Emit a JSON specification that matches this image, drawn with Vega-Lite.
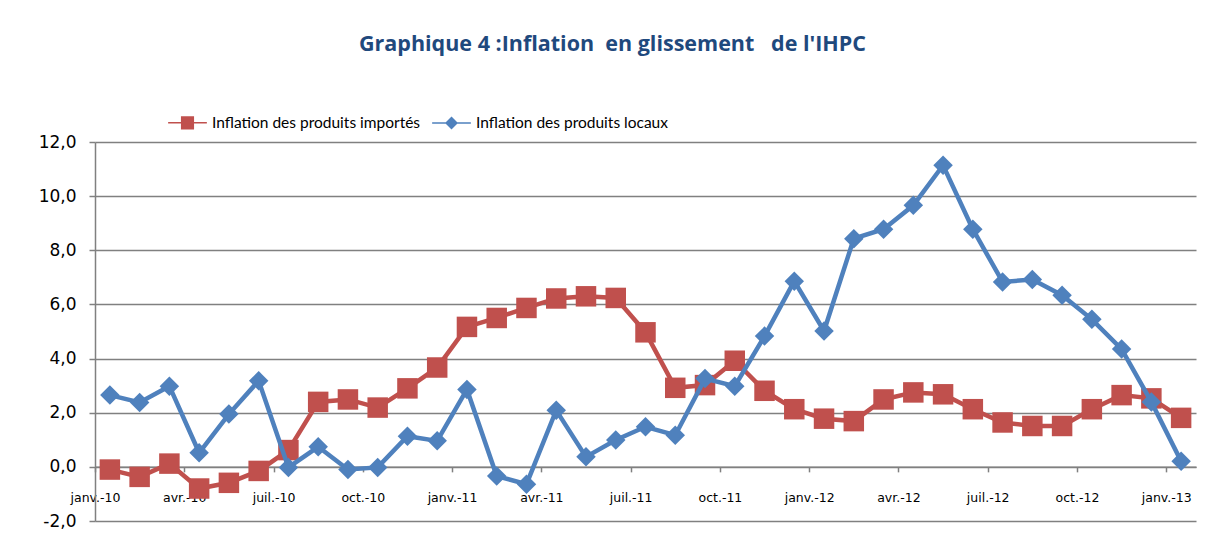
{
  "$schema": "https://vega.github.io/schema/vega-lite/v6.json",
  "width": 1101,
  "height": 379,
  "autosize": {"type": "none"},
  "padding": {"left": 95, "top": 142, "right": 26, "bottom": 23},
  "background": "white",
  "title": {
    "text": "Graphique 4 :Inflation\u00a0 en glissement\u00a0\u00a0 de l'IHPC",
    "font": "Open Sans",
    "fontSize": 21.5,
    "fontWeight": "bold",
    "color": "#1F497D",
    "anchor": "middle",
    "frame": "group",
    "dx": -33,
    "offset": 47
  },
  "config": {
    "view": {"stroke": null},
    "axis": {"labelFont": "DejaVu Sans", "labelColor": "#000000"}
  },
  "data": {
    "values": [
      {"mois": "janv.-10", "Inflation des produits importés": -0.1, "Inflation des produits locaux": 2.65},
      {"mois": "févr.-10", "Inflation des produits importés": -0.37, "Inflation des produits locaux": 2.38},
      {"mois": "mars-10", "Inflation des produits importés": 0.12, "Inflation des produits locaux": 2.98},
      {"mois": "avr.-10", "Inflation des produits importés": -0.8, "Inflation des produits locaux": 0.52},
      {"mois": "mai-10", "Inflation des produits importés": -0.59, "Inflation des produits locaux": 1.95},
      {"mois": "juin-10", "Inflation des produits importés": -0.15, "Inflation des produits locaux": 3.18},
      {"mois": "juil.-10", "Inflation des produits importés": 0.62, "Inflation des produits locaux": -0.02},
      {"mois": "août-10", "Inflation des produits importés": 2.4, "Inflation des produits locaux": 0.74},
      {"mois": "sept.-10", "Inflation des produits importés": 2.49, "Inflation des produits locaux": -0.1},
      {"mois": "oct.-10", "Inflation des produits importés": 2.19, "Inflation des produits locaux": -0.02},
      {"mois": "nov.-10", "Inflation des produits importés": 2.9, "Inflation des produits locaux": 1.13},
      {"mois": "déc.-10", "Inflation des produits importés": 3.67, "Inflation des produits locaux": 0.96},
      {"mois": "janv.-11", "Inflation des produits importés": 5.17, "Inflation des produits locaux": 2.86},
      {"mois": "févr.-11", "Inflation des produits importés": 5.5, "Inflation des produits locaux": -0.34},
      {"mois": "mars-11", "Inflation des produits importés": 5.87, "Inflation des produits locaux": -0.64},
      {"mois": "avr.-11", "Inflation des produits importés": 6.22, "Inflation des produits locaux": 2.09},
      {"mois": "mai-11", "Inflation des produits importés": 6.3, "Inflation des produits locaux": 0.37},
      {"mois": "juin-11", "Inflation des produits importés": 6.24, "Inflation des produits locaux": 0.99},
      {"mois": "juil.-11", "Inflation des produits importés": 4.97, "Inflation des produits locaux": 1.48},
      {"mois": "août-11", "Inflation des produits importés": 2.92, "Inflation des produits locaux": 1.17},
      {"mois": "sept.-11", "Inflation des produits importés": 3.02, "Inflation des produits locaux": 3.26},
      {"mois": "oct.-11", "Inflation des produits importés": 3.92, "Inflation des produits locaux": 2.98},
      {"mois": "nov.-11", "Inflation des produits importés": 2.81, "Inflation des produits locaux": 4.83},
      {"mois": "déc.-11", "Inflation des produits importés": 2.13, "Inflation des produits locaux": 6.86},
      {"mois": "janv.-12", "Inflation des produits importés": 1.78, "Inflation des produits locaux": 5.02},
      {"mois": "févr.-12", "Inflation des produits importés": 1.69, "Inflation des produits locaux": 8.43},
      {"mois": "mars-12", "Inflation des produits importés": 2.49, "Inflation des produits locaux": 8.78},
      {"mois": "avr.-12", "Inflation des produits importés": 2.75, "Inflation des produits locaux": 9.66},
      {"mois": "mai-12", "Inflation des produits importés": 2.68, "Inflation des produits locaux": 11.14},
      {"mois": "juin-12", "Inflation des produits importés": 2.13, "Inflation des produits locaux": 8.78},
      {"mois": "juil.-12", "Inflation des produits importés": 1.64, "Inflation des produits locaux": 6.83},
      {"mois": "août-12", "Inflation des produits importés": 1.51, "Inflation des produits locaux": 6.92},
      {"mois": "sept.-12", "Inflation des produits importés": 1.51, "Inflation des produits locaux": 6.34},
      {"mois": "oct.-12", "Inflation des produits importés": 2.13, "Inflation des produits locaux": 5.45},
      {"mois": "nov.-12", "Inflation des produits importés": 2.65, "Inflation des produits locaux": 4.35},
      {"mois": "déc.-12", "Inflation des produits importés": 2.53, "Inflation des produits locaux": 2.4},
      {"mois": "janv.-13", "Inflation des produits importés": 1.81, "Inflation des produits locaux": 0.21}
    ]
  },
  "transform": [
    {"fold": ["Inflation des produits importés", "Inflation des produits locaux"], "as": ["serie", "valeur"]}
  ],
  "encoding": {
    "x": {
      "field": "mois",
      "type": "ordinal",
      "sort": null,
      "scale": {"type": "point", "padding": 0.5},
      "axis": {
        "title": null,
        "values": ["janv.-10", "avr.-10", "juil.-10", "oct.-10", "janv.-11", "avr.-11", "juil.-11", "oct.-11", "janv.-12", "avr.-12", "juil.-12", "oct.-12", "janv.-13"],
        "labelAngle": 0,
        "labelFontSize": 12.5,
        "labelPadding": 20,
        "tickOffset": -14.88,
        "tickSize": 5,
        "tickColor": "#808080",
        "tickWidth": 1.5,
        "domainColor": "#808080",
        "domainWidth": 1.5,
        "offset": -54.14,
        "grid": false
      }
    },
    "y": {
      "field": "valeur",
      "type": "quantitative",
      "scale": {"domain": [-2, 12], "nice": false, "zero": false},
      "axis": {
        "title": null,
        "values": [-2, 0, 2, 4, 6, 8, 10, 12],
        "labelExpr": "replace(replace(format(datum.value, '.1f'), '.', ','), '\u2212', '-')",
        "labelFontSize": 17,
        "labelPadding": 13,
        "tickSize": 6,
        "tickColor": "#808080",
        "tickWidth": 1.5,
        "domainColor": "#808080",
        "domainWidth": 1.5,
        "grid": true,
        "gridColor": "#808080",
        "gridWidth": 1.5
      }
    },
    "color": {
      "field": "serie",
      "type": "nominal",
      "scale": {
        "domain": ["Inflation des produits importés", "Inflation des produits locaux"],
        "range": ["#C0504D", "#4F81BD"]
      },
      "legend": {
        "title": null,
        "orient": "none",
        "legendX": 72,
        "legendY": -40,
        "direction": "horizontal",
        "labelFont": "Lato",
        "labelFontSize": 15.5,
        "labelLimit": 0,
        "labelColor": "#000000",
        "symbolSize": 1500,
        "columnPadding": 8,
        "labelOffset": 4,
        "encode": {
          "symbols": {
            "update": {
              "shape": {"signal": "datum.value === 'Inflation des produits importés' ? 'M-1,0H1M-0.3,-0.3H0.3V0.3H-0.3Z' : 'M-1,0H1M0,-0.28L0.28,0L0,0.28L-0.28,0Z'"},
              "stroke": {"signal": "scale('color', datum.value)"},
              "fill": {"signal": "scale('color', datum.value)"},
              "strokeWidth": {"value": 1.5},
              "opacity": {"value": 1}
            }
          }
        }
      }
    }
  },
  "layer": [
    {
      "transform": [{"filter": "datum.serie === 'Inflation des produits importés'"}],
      "mark": {"type": "line", "strokeWidth": 4.5}
    },
    {
      "transform": [{"filter": "datum.serie === 'Inflation des produits importés'"}],
      "mark": {"type": "point", "shape": "square", "filled": true, "size": 420, "opacity": 1}
    },
    {
      "transform": [{"filter": "datum.serie === 'Inflation des produits locaux'"}],
      "mark": {"type": "line", "strokeWidth": 4.5}
    },
    {
      "transform": [{"filter": "datum.serie === 'Inflation des produits locaux'"}],
      "mark": {"type": "point", "shape": "diamond", "filled": true, "size": 380, "opacity": 1}
    }
  ]
}
